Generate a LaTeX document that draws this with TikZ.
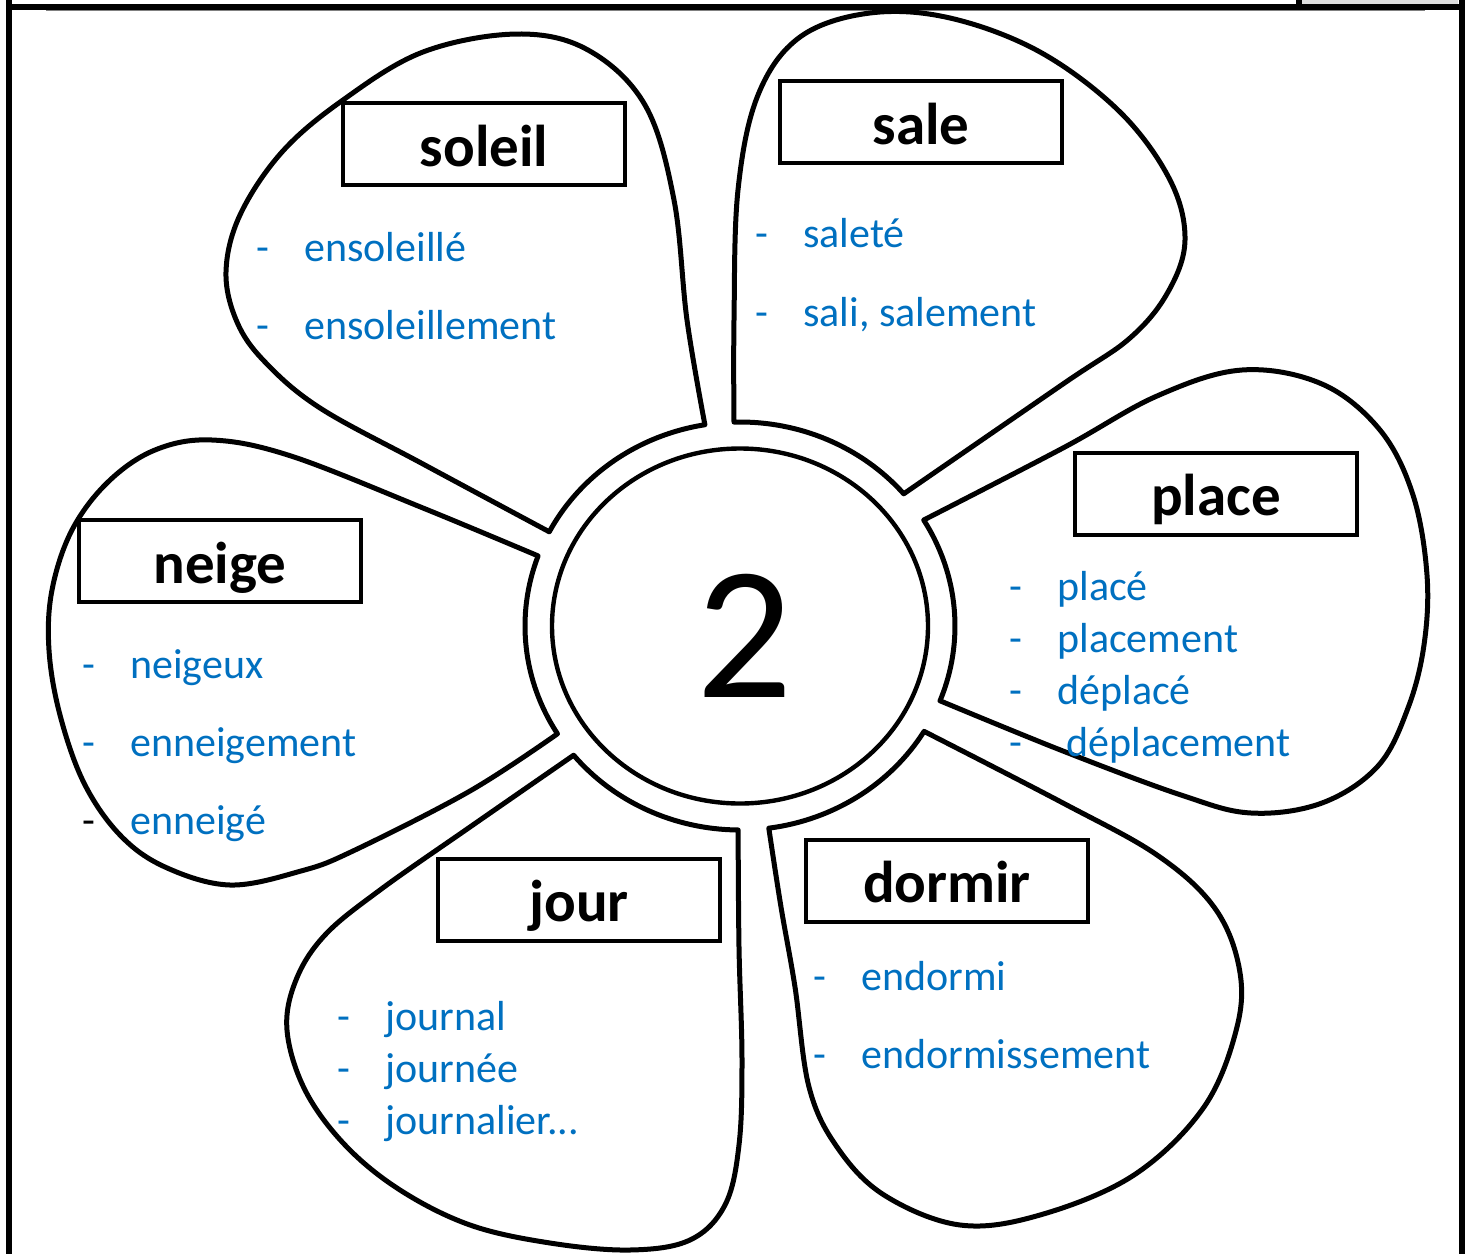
\documentclass[tikz,border=0pt]{standalone}
\usepackage{fontspec}
\setmainfont{Carlito}
\usetikzlibrary{calc}
\definecolor{wordblue}{HTML}{0070C0}
\newcommand\derivline[2][-]{\makebox[24pt][l]{#1}#2}

\begin{document}
\begin{tikzpicture}[x=0.5pt,y=-0.5pt]
    \tikzset{
        petal/.style={line width=2.5pt, line join=round},
        ring/.style={x radius=107.5pt, y radius=102pt},
        rootbox/.style={draw, line width=2pt, minimum width=141pt, inner sep=0pt,
            text height=31.5pt, text depth=9.5pt, font=\fontsize{29.5}{30}\selectfont\bfseries},
        derived/.style={anchor=base west, inner sep=0pt, text=wordblue,
            font=\fontsize{21}{24}\selectfont},}
    \useasboundingbox (0,0) rectangle (1469,1254);
    % frame of the page
    \draw [line width=3pt] (9,0) -- (9,1254);
    \draw [line width=3pt] (1462,0) -- (1462,1254);
    \draw [line width=2.75pt] (6,6.75) -- (1465,6.75);
    \draw [gray, line width=0.6pt] (46,10.3) -- (1425,10.3);
    \fill [black!13] (1302,0) rectangle (1458,3.5);
    \draw [line width=3pt] (1299,0) -- (1299,4);
    % heart of the flower
    \coordinate (c) at (740,626);
    \draw [line width=2.2pt] (c) ellipse [x radius=94pt, y radius=88.75pt];
    \node [anchor=base, inner sep=0pt, font=\fontsize{95}{100}\selectfont] (two) at (745,697) {2};
    % base points of the petals on the ring
    \coordinate (s1) at ($(c)+(99.4:107.5pt and 102pt)$);
    \coordinate (s2) at ($(c)+(152.5:107.5pt and 102pt)$);
    \coordinate (n1) at ($(c)+(159.9:107.5pt and 102pt)$);
    \coordinate (n2) at ($(c)+(211.9:107.5pt and 102pt)$);
    \coordinate (j1) at ($(c)+(269.5:107.5pt and 102pt)$);
    \coordinate (j2) at ($(c)+(219.3:107.5pt and 102pt)$);
    \coordinate (d1) at ($(c)+(328.9:107.5pt and 102pt)$);
    \coordinate (d2) at ($(c)+(277.7:107.5pt and 102pt)$);
    \coordinate (p1) at ($(c)+(31.3:107.5pt and 102pt)$);
    \coordinate (p2) at ($(c)+(-21.5:107.5pt and 102pt)$);
    \coordinate (a1) at ($(c)+(91.6:107.5pt and 102pt)$);
    \coordinate (a2) at ($(c)+(40.4:107.5pt and 102pt)$);
    % petals
    \draw [petal] plot [smooth, tension=0.6] coordinates {(s1) (687,320) (674,200) (645,105) (588,50) (517,34) (423,52) (343,100) (282,152) (240,215) (226,272) (237,322) (265,362) (320,408) (423,464) (s2)}
        arc [ring, start angle=152.5, end angle=99.4] -- cycle;
    \draw [petal] plot [smooth, tension=0.6] coordinates {(a1) (734,320) (738,190) (758,95) (800,37) (870,13) (950,18) (1040,52) (1120,112) (1170,180) (1185,240) (1168,292) (1130,338) (1063,384) (a2)}
        arc [ring, start angle=40.4, end angle=91.6] -- cycle;
    \draw [petal] plot [smooth, tension=0.6] coordinates {(p1) (1063,448) (1157,396) (1242,370) (1322,384) (1380,430) (1413,495) (1427,575) (1424,645) (1408,708) (1378,766) (1322,803) (1251,813) (1181,795) (1063,751) (p2)}
        arc [ring, start angle=-21.5, end angle=31.3] -- cycle;
    \draw [petal] plot [smooth, tension=0.6] coordinates {(d1) (1063,803) (1157,855) (1214,907) (1239,967) (1237,1027) (1204,1107) (1134,1175) (1040,1215) (960,1225) (884,1195) (837,1147) (809,1087) (795,987) (781,907) (d2)}
        arc [ring, start angle=277.7, end angle=328.9] -- cycle;
    \draw [petal] plot [smooth, tension=0.6] coordinates {(j1) (739,947) (742,1060) (739,1145) (725,1205) (690,1240) (630,1250) (550,1243) (470,1225) (400,1190) (345,1145) (305,1090) (287,1030) (296,980) (325,935) (380,890) (470,827) (j2)}
        arc [ring, start angle=219.3, end angle=269.5] -- cycle;
    \draw [petal] plot [smooth, tension=0.6] coordinates {(n1) (423,508) (291,456) (212,440) (155,450) (108,482) (72,530) (52,590) (49,650) (60,715) (84,783) (120,835) (165,867) (230,885) (301,871) (353,851) (470,791) (n2)}
        arc [ring, start angle=211.9, end angle=159.9] -- cycle;
    % root words
    \node [rootbox] (soleil) at (484,144) {soleil};
    \node [rootbox] (sale) at (921,122) {sale};
    \node [rootbox] (place) at (1216,493.5) {place};
    \node [rootbox] (neige) at (220,561) {neige};
    \node [rootbox] (jour) at (579,899.5) {jour};
    \node [rootbox] (dormir) at (947,880.5) {dormir};
    % derived words
    \node [derived] (sol1) at (256,261) {\derivline{ensoleillé}};
    \node [derived] (sol2) at (256,339) {\derivline{ensoleillement}};
    \node [derived] (sal1) at (755,247) {\derivline{saleté}};
    \node [derived] (sal2) at (755,326) {\derivline{sali, salement}};
    \node [derived] (pla1) at (1009,600) {\derivline{placé}};
    \node [derived] (pla2) at (1009,652) {\derivline{placement}};
    \node [derived] (pla3) at (1009,704) {\derivline{déplacé}};
    \node [derived] (pla4) at (1009,756) {\derivline{\ déplacement}};
    \node [derived] (nei1) at (82,678) {\derivline{neigeux}};
    \node [derived] (nei2) at (82,756) {\derivline{enneigement}};
    \node [derived] (nei3) at (82,834) {\derivline[\textcolor{black}{-}]{enneigé}};
    \node [derived] (jou1) at (337,1030) {\derivline{journal}};
    \node [derived] (jou2) at (337,1082) {\derivline{journée}};
    \node [derived] (jou3) at (337,1134) {\derivline{journalier...}};
    \node [derived] (dor1) at (813,990) {\derivline{endormi}};
    \node [derived] (dor2) at (813,1068) {\derivline{endormissement}};
\end{tikzpicture}
\end{document}
